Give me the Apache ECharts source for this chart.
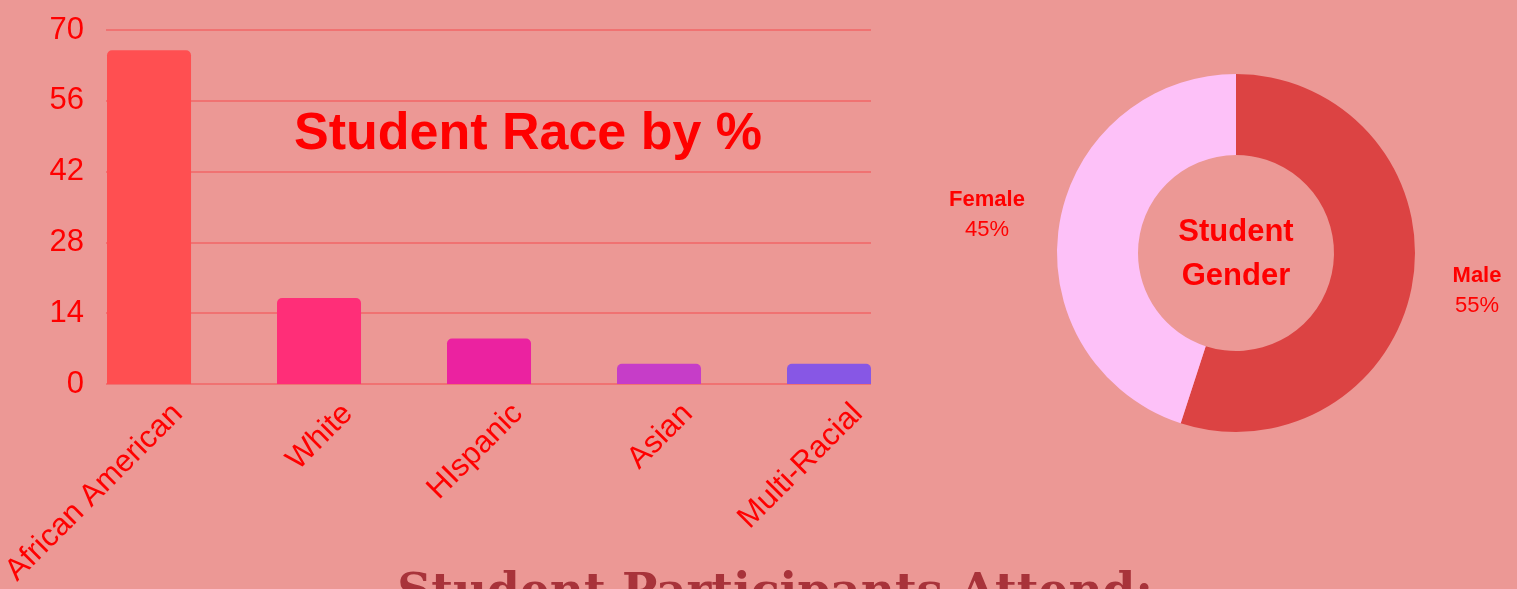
<!DOCTYPE html>
<html>
<head>
<meta charset="utf-8">
<title>Student Race by %</title>
<script src="https://cdn.jsdelivr.net/npm/echarts@6/dist/echarts.min.js"></script>
<style>
  html, body { margin: 0; padding: 0; background: #EC9895; }
  #main { width: 1517px; height: 589px; }
</style>
</head>
<body>
<div id="main"></div>
<script>
// race chart data
var raceNames = ['African American', 'White', 'HIspanic', 'Asian', 'Multi-Racial'];
var raceValues = [66, 17, 9, 4, 4];
var raceColors = ['#FF4F51', '#FF2E78', '#EB22A0', '#C63DC8', '#8757E5'];
var yTicks = [0, 14, 28, 42, 56, 70];

// gender donut data
var genderNames = ['Male', 'Female'];
var genderValues = [55, 45];
var genderColors = ['#DC4343', '#FDC1F8'];

var font = '"Liberation Sans", Arial, sans-serif';

var chart = echarts.init(document.getElementById('main'));

// bars sit on the index, labels hang just left of each bar's right edge
var barData = raceValues.map(function (v, i) {
	return { value: [i, v], itemStyle: { color: raceColors[i] } };
});
var labelShift = 0.17;
var labelPos = raceNames.map(function (n, i) { return i + labelShift; });

var option = {
	backgroundColor: '#EC9895',
	animation: false,
	textStyle: { fontFamily: font },
	grid: { left: 106, right: 646, top: 30, bottom: 205, outerBoundsMode: 'none', containLabel: false },
	xAxis: {
		type: 'value',
		min: -0.253,
		max: 4.247,
		splitLine: { show: false },
		axisLine: { show: false },
		axisTick: { show: false },
		axisLabel: {
			customValues: labelPos,
			rotate: 45,
			margin: 25,
			color: '#FF0000',
			fontSize: 31,
			fontFamily: font,
			formatter: function (v) {
				return raceNames[Math.round(v - labelShift)] || '';
			}
		}
	},
	yAxis: {
		type: 'value',
		min: yTicks[0],
		max: yTicks[yTicks.length - 1],
		interval: 14,
		axisLine: { show: false },
		axisTick: { show: false },
		splitLine: { lineStyle: { color: '#F07272', width: 2 } },
		axisLabel: { color: '#FF0000', fontSize: 31, margin: 22, fontFamily: font }
	},
	series: [
		{
			type: 'bar',
			data: barData,
			barWidth: 84,
			itemStyle: { borderRadius: [5, 5, 0, 0] }
		},
		{
			type: 'pie',
			center: [1236, 253],
			radius: [98, 179],
			startAngle: 90,
			clockwise: true,
			data: genderNames.map(function (n, i) {
				return { name: n, value: genderValues[i], itemStyle: { color: genderColors[i] } };
			}),
			label: {
				position: 'outside',
				width: 90,
				overflow: 'none',
				formatter: '{n|{b}}\n{p|{d}%}',
				rich: {
					n: { fontSize: 22, fontWeight: 'bold', color: '#FF0000', lineHeight: 30, align: 'center', fontFamily: font },
					p: { fontSize: 22, color: '#FF0000', lineHeight: 30, align: 'center', fontFamily: font }
				}
			},
			labelLine: { show: false, length: 64, length2: 0 },
			labelLayout: { align: 'center', dx: -4 },
			emphasis: { disabled: true }
		}
	],
	graphic: [
		{
			type: 'text',
			x: 528,
			y: 135,
			style: {
				text: 'Student Race by %',
				fill: '#FF0000',
				font: 'bold 52px ' + font,
				align: 'center',
				verticalAlign: 'middle'
			}
		},
		{
			type: 'text',
			x: 1236,
			y: 254,
			style: {
				text: 'Student\nGender',
				fill: '#FF0000',
				font: 'bold 31px ' + font,
				lineHeight: 44,
				align: 'center',
				verticalAlign: 'middle'
			}
		},
		{
			type: 'text',
			x: 775,
			y: 594,
			style: {
				text: 'Student Participants Attend:',
				fill: '#A8333A',
				font: 'bold 47px "DejaVu Serif", serif',
				align: 'center',
				verticalAlign: 'middle'
			}
		}
	]
};

chart.setOption(option);
</script>
</body>
</html>
